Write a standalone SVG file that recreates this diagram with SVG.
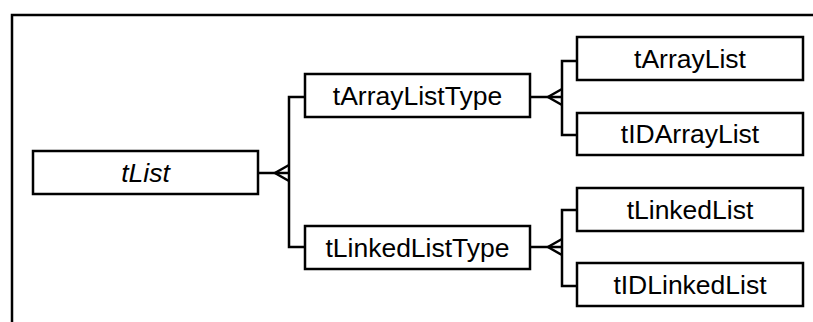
<svg xmlns="http://www.w3.org/2000/svg" width="813" height="322" viewBox="0 0 813 322">
  <style>
    .box { fill: #fff; stroke: #000; stroke-width: 2.5; }
    .lbl { font-family: "Liberation Sans", Arial, sans-serif; font-size: 26.5px; fill: #000; text-anchor: middle; }
    .it { font-style: italic; }
    .ln { fill: none; stroke: #000; stroke-width: 2.5; stroke-linejoin: miter; }
  </style>
  <rect width="813" height="322" fill="#fff"/>
  <!-- outer frame -->
  <path class="ln" d="M12,322 V15 H813"/>

  <g id="connectors">
    <!-- tList to type groups -->
    <path class="ln" d="M258,173 H289"/>
    <path class="ln" d="M289,165 L275,173 L289,181"/>
    <path class="ln" d="M305,97 H289 V247 H305"/>
    <!-- tArrayListType to array lists -->
    <path class="ln" d="M530,97 H562"/>
    <path class="ln" d="M562,89 L548,97 L562,105"/>
    <path class="ln" d="M577,61 H562 V135 H577"/>
    <!-- tLinkedListType to linked lists -->
    <path class="ln" d="M530,247 H562"/>
    <path class="ln" d="M562,239 L548,247 L562,255"/>
    <path class="ln" d="M577,210 H562 V286 H577"/>
  </g>

  <g id="tList">
    <rect class="box" x="33" y="151" width="225" height="43"/>
    <text class="lbl it" x="145.5" y="182">tList</text>
  </g>
  <g id="tArrayListType">
    <rect class="box" x="305" y="74" width="225" height="43"/>
    <text class="lbl" x="417.5" y="105">tArrayListType</text>
  </g>
  <g id="tLinkedListType">
    <rect class="box" x="305" y="226" width="225" height="43"/>
    <text class="lbl" x="417.5" y="257">tLinkedListType</text>
  </g>
  <g id="tArrayList">
    <rect class="box" x="577" y="37" width="226" height="43"/>
    <text class="lbl" x="690" y="68">tArrayList</text>
  </g>
  <g id="tIDArrayList">
    <rect class="box" x="577" y="113" width="226" height="42"/>
    <text class="lbl" x="690" y="143">tIDArrayList</text>
  </g>
  <g id="tLinkedList">
    <rect class="box" x="577" y="188" width="226" height="43"/>
    <text class="lbl" x="690" y="219">tLinkedList</text>
  </g>
  <g id="tIDLinkedList">
    <rect class="box" x="577" y="263" width="226" height="43"/>
    <text class="lbl" x="690" y="294">tIDLinkedList</text>
  </g>
</svg>
